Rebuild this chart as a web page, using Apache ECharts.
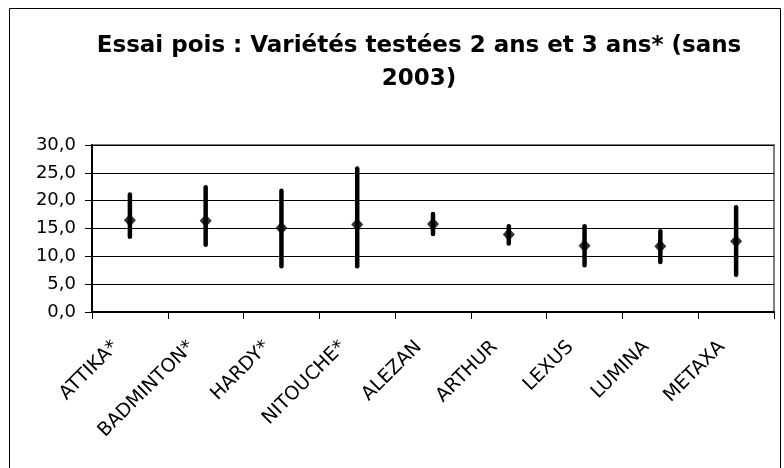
<!DOCTYPE html>
<html>
<head>
<meta charset="UTF-8">
<title>Essai pois</title>
<script src="https://cdn.jsdelivr.net/npm/echarts@6/dist/echarts.min.js"></script>
<style>
  html, body { margin: 0; padding: 0; background: #fff; }
  #main { width: 784px; height: 468px; }
</style>
</head>
<body>
<div id="main"></div>
<script type="text/javascript">
// données
let varietes = ['ATTIKA*', 'BADMINTON*', 'HARDY*', 'NITOUCHE*', 'ALEZAN', 'ARTHUR', 'LEXUS', 'LUMINA', 'METAXA']
let maxi = [21.1, 22.4, 21.8, 25.8, 17.6, 15.4, 15.4, 14.5, 18.8]
let mini = [13.5, 12.1, 8.2, 8.2, 14.0, 12.3, 8.4, 9.0, 6.7]
let moyenne = [16.5, 16.4, 15.1, 15.7, 15.8, 13.9, 11.9, 11.8, 12.7]

let police = 'DejaVu Sans'

let ecart = []
for (let i = 0; i < varietes.length; i++) {
    ecart.push([i, mini[i], maxi[i]])
}

var myChart = echarts.init(document.getElementById('main'))
var option = {
    animation: false,
    backgroundColor: '#fff',
    graphic: [
        {
            type: 'rect',
            shape: { x: 9.5, y: 8.5, width: 771, height: 480 },
            style: { fill: 'none', stroke: '#000', lineWidth: 1 },
            silent: true
        },
        {
            type: 'text',
            x: 419,
            y: 30,
            style: {
                text: 'Essai pois : Variétés testées 2 ans et 3 ans* (sans\n2003)',
                textAlign: 'center',
                fontFamily: police,
                fontWeight: 'bold',
                fontSize: 23,
                lineHeight: 33,
                fill: '#000'
            }
        }
    ],
    grid: {
        left: 92,
        right: 10,
        top: 145,
        height: 167,
        show: true,
        borderColor: '#808080',
        borderWidth: 2,
        backgroundColor: '#fff'
    },
    xAxis: {
        type: 'category',
        data: varietes,
        boundaryGap: true,
        axisLine: { lineStyle: { color: '#000', width: 2 } },
        axisTick: { show: true, length: 7, lineStyle: { color: '#000', width: 1 } },
        axisLabel: {
            rotate: 45,
            margin: 18,
            interval: 0,
            color: '#000',
            fontFamily: police,
            fontSize: 19,
            padding: [0, 20, 0, 0]
        },
        splitLine: { show: false }
    },
    yAxis: {
        type: 'value',
        min: 0,
        max: 30,
        interval: 5,
        axisLine: { show: true, lineStyle: { color: '#000', width: 2 } },
        axisTick: { show: true, length: 7, lineStyle: { color: '#000', width: 1 } },
        axisLabel: {
            margin: 16,
            color: '#000',
            fontFamily: police,
            fontSize: 18,
            padding: [0, 0, 4, 0],
            formatter: function (v) { return v.toFixed(1).replace('.', ',') }
        },
        splitLine: { show: true, lineStyle: { color: '#000', width: 1 } }
    },
    series: [
        {
            type: 'custom',
            data: ecart,
            renderItem: function (params, api) {
                let bas = api.coord([api.value(0), api.value(1)])
                let haut = api.coord([api.value(0), api.value(2)])
                return {
                    type: 'line',
                    shape: { x1: bas[0], y1: bas[1], x2: haut[0], y2: haut[1] },
                    style: { stroke: '#000', lineWidth: 4.5, lineCap: 'round' }
                }
            },
            z: 3
        },
        {
            type: 'scatter',
            data: moyenne,
            symbol: 'diamond',
            symbolSize: [12, 13],
            itemStyle: { color: '#000' },
            z: 4
        }
    ]
}
myChart.setOption(option)
</script>
</body>
</html>
